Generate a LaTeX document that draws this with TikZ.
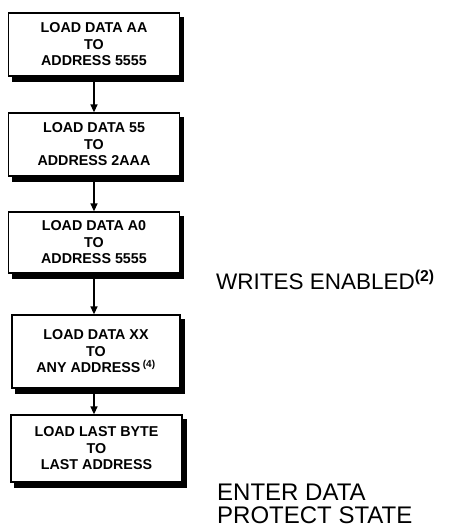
\documentclass[tikz,border=0pt]{standalone}
\usepackage{fontspec}
\setmainfont{Liberation Sans}
\usetikzlibrary{arrows.meta,backgrounds}
\begin{document}
\begin{tikzpicture}[x=1pt,y=-1pt,
  stepbox/.style={draw=black, line width=1.3pt, fill=white, align=center,
    inner sep=0pt, anchor=center,
    font=\bfseries\fontsize{14.3}{16.5}\selectfont},
  shade/.style={fill=black},
  flow/.style={line width=1.3pt, -{Triangle[length=8pt,width=7pt]}},
  note/.style={font=\fontsize{22.5}{24}\selectfont, anchor=base west, inner sep=0pt, align=left}]
\useasboundingbox (0,0) rectangle (448,530);
\node[stepbox, minimum width=171pt, minimum height=63pt] (b1) at (94,44.5)
  {LOAD DATA AA\\TO\\ADDRESS 5555};
\node[stepbox, minimum width=171pt, minimum height=63pt] (b2) at (94,144.5)
  {LOAD DATA 55\\TO\\ADDRESS 2AAA};
\node[stepbox, minimum width=171pt, minimum height=61pt] (b3) at (94,242.5)
  {LOAD DATA A0\\TO\\ADDRESS 5555};
\node[stepbox, minimum width=168pt, minimum height=73pt] (b4) at (96,351.5)
  {LOAD DATA XX\\TO\\ANY ADDRESS\,\textsuperscript{(4)}};
\node[stepbox, minimum width=171pt, minimum height=67pt] (b5) at (96.5,448.5)
  {LOAD LAST BYTE\\TO\\LAST ADDRESS};
\begin{scope}[on background layer]
  \foreach \b in {b1,b2,b3,b4,b5}
    \fill[shade] ([shift={(4,5)}]\b.north west) rectangle ([shift={(4,5)}]\b.south east);
\end{scope}
\draw[flow] (b1.south) -- (b1.south |- b2.north);
\draw[flow] (b2.south) -- (b2.south |- b3.north);
\draw[flow] (b3.south) -- (b3.south |- b4.north);
\draw[flow] (b3.south |- b4.south) -- (b3.south |- b5.north);
\node[note] (w) at (216,289) {WRITES ENABLED\textsuperscript{\bfseries(2)}};
\node[note, font=\fontsize{24}{24}\selectfont] (e1) at (217,500) {ENTER DATA};
\node[note, font=\fontsize{24}{24}\selectfont] (e2) at (217,523) {PROTECT STATE};
\end{tikzpicture}
\end{document}
